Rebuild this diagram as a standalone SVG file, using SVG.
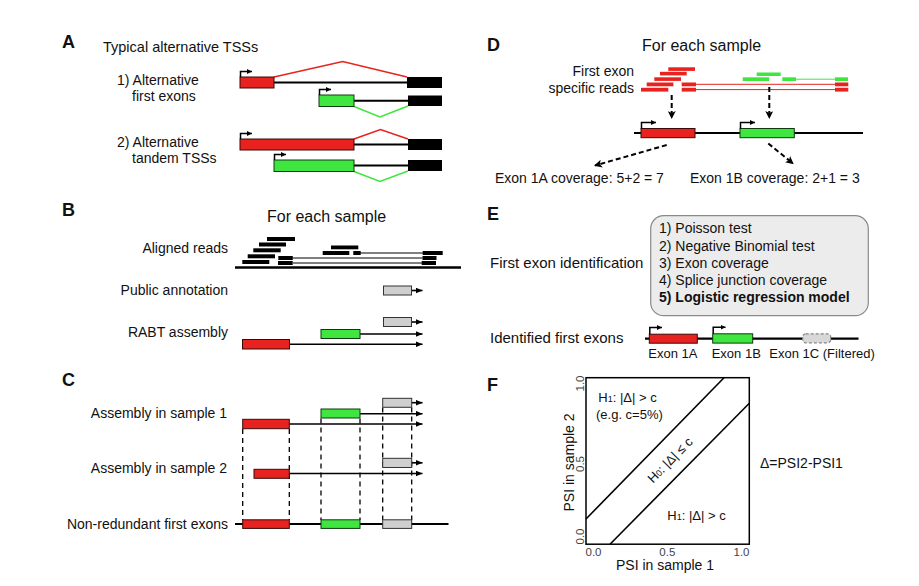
<svg xmlns="http://www.w3.org/2000/svg" width="919" height="586" viewBox="0 0 919 586">
<defs>
<style>
text{font-family:"Liberation Sans",Arial,sans-serif;fill:#111;}
.lab{font-size:18px;font-weight:bold;}
.t14{font-size:14px;}
.t15{font-size:15px;}
.t16{font-size:16px;}
.t13{font-size:13px;}
.tick{font-size:11.5px;fill:#444;}
.red{fill:#e8221e;stroke:#3a0a08;stroke-width:1;}
.grn{fill:#3fe63f;stroke:#0d3a0d;stroke-width:1;}
.gry{fill:#cfcfcf;stroke:#333;stroke-width:1;}
.blk{fill:#000;}
.ln{stroke:#000;stroke-width:2;fill:none;}
.thin{stroke:#000;stroke-width:1;fill:none;}
.arr{stroke:#000;stroke-width:1.6;fill:none;marker-end:url(#ah);}
.tss{stroke:#000;stroke-width:1.5;fill:none;marker-end:url(#th);}
.dash{stroke:#000;stroke-width:1.3;stroke-dasharray:5,4;fill:none;}
.darr{stroke:#000;stroke-width:2;stroke-dasharray:5,3;fill:none;marker-end:url(#dh);}
.rl{stroke:#e8221e;stroke-width:1.6;fill:none;}
.gl{stroke:#3fe63f;stroke-width:1.6;fill:none;}
.rr{fill:#e8221e;}
.gr{fill:#3fe63f;}
</style>
<marker id="ah" markerWidth="7" markerHeight="6" refX="7" refY="3" orient="auto" markerUnits="userSpaceOnUse"><path d="M0,0 L7,3 L0,6 z" fill="#000"/></marker>
<marker id="th" markerWidth="5" markerHeight="5" refX="5" refY="2.5" orient="auto" markerUnits="userSpaceOnUse"><path d="M0,0 L5,2.5 L0,5 z" fill="#000"/></marker>
<marker id="dh" markerWidth="8" markerHeight="8" refX="7" refY="4" orient="auto" markerUnits="userSpaceOnUse"><path d="M0,0 L8,4 L0,8 L2,4 z" fill="#000"/></marker>
</defs>
<rect width="919" height="586" fill="#fff"/>

<!-- Panel A -->
<g id="panelA">
<text class="lab" x="62" y="48">A</text>
<text class="t14" x="103" y="52" style="font-size:14.5px">Typical alternative TSSs</text>
<text class="t14" x="117" y="85">1) Alternative</text>
<text class="t14" x="132" y="101">first exons</text>
<text class="t14" x="117" y="147">2) Alternative</text>
<text class="t14" x="132" y="163">tandem TSSs</text>
<g id="a-row1">
<polyline class="rl" points="274,77 342.7,61.5 407,77"/>
<line class="ln" x1="274" y1="82.5" x2="408" y2="82.5"/>
<rect class="red" x="240" y="77" width="34" height="11"/>
<rect class="blk" x="407" y="77" width="35" height="11"/>
<path class="tss" d="M240.5,77 V71.5 H252"/>
</g>
<g id="a-row2">
<polyline class="gl" points="354,106.5 380,117 408,106"/>
<line class="ln" x1="354" y1="100.7" x2="408" y2="100.7"/>
<rect class="grn" x="319" y="95" width="35" height="11.5"/>
<rect class="blk" x="408" y="95.5" width="34" height="10.5"/>
<path class="tss" d="M319.5,95 V89.5 H331"/>
</g>
<g id="a-row3">
<polyline class="rl" points="354,139 380.5,129.5 408,139"/>
<line class="ln" x1="354" y1="144.5" x2="408" y2="144.5"/>
<rect class="red" x="240" y="139" width="114" height="11"/>
<rect class="blk" x="408" y="139" width="34" height="11"/>
<path class="tss" d="M240.5,139 V133.5 H252"/>
</g>
<g id="a-row4">
<polyline class="gl" points="354,171.5 380,181.5 408,171"/>
<line class="ln" x1="354" y1="165.5" x2="408" y2="165.5"/>
<rect class="grn" x="274" y="160" width="80" height="11.5"/>
<rect class="blk" x="408" y="160" width="34" height="11"/>
<path class="tss" d="M274.5,160 V154.5 H286"/>
</g>
</g>

<!-- Panel B -->
<g id="panelB">
<text class="lab" x="62" y="216">B</text>
<text class="t16" x="267" y="221.5">For each sample</text>
<text class="t14" x="228" y="253" text-anchor="end">Aligned reads</text>
<text class="t14" x="228" y="295" text-anchor="end">Public annotation</text>
<text class="t14" x="228" y="337" text-anchor="end">RABT assembly</text>
<g id="b-reads">
<line x1="235" y1="267.5" x2="461" y2="267.5" stroke="#000" stroke-width="2.6"/>
<rect class="blk" x="267" y="237" width="28" height="4"/>
<rect class="blk" x="259" y="242.5" width="27" height="4"/>
<rect class="blk" x="253.3" y="248.3" width="27.4" height="4"/>
<rect class="blk" x="247.7" y="254.3" width="27.3" height="4"/>
<rect class="blk" x="242.3" y="260" width="27" height="4"/>
<line class="thin" x1="293" y1="258" x2="422.5" y2="258"/>
<line class="thin" x1="293" y1="263" x2="422" y2="263"/>
<rect class="blk" x="278.3" y="256" width="14.5" height="4"/>
<rect class="blk" x="278" y="261" width="14.7" height="4"/>
<rect class="blk" x="422.5" y="256" width="14" height="4"/>
<rect class="blk" x="421.7" y="261" width="14.3" height="4"/>
<rect class="blk" x="331" y="245.5" width="27.3" height="3.8"/>
<rect class="blk" x="322.7" y="251" width="26.6" height="4"/>
<line class="thin" x1="360" y1="253" x2="423" y2="253"/>
<rect class="blk" x="353.3" y="251" width="7.4" height="4"/>
<rect class="blk" x="422.7" y="251" width="20" height="4"/>
</g>
<g id="b-public">
<line class="arr" x1="411.5" y1="290.5" x2="422.5" y2="290.5"/>
<rect class="gry" x="383.5" y="286" width="28" height="9"/>
</g>
<g id="b-rabt">
<line class="arr" x1="411.5" y1="322" x2="422.5" y2="322"/>
<rect class="gry" x="383.5" y="317.5" width="28" height="9"/>
<line class="arr" x1="360" y1="334" x2="422.5" y2="334"/>
<rect class="grn" x="321" y="329.5" width="39" height="9"/>
<line class="arr" x1="289.5" y1="344.3" x2="422.5" y2="344.3"/>
<rect class="red" x="242.5" y="339.5" width="47" height="9.5"/>
</g>
</g>

<!-- Panel C -->
<g id="panelC">
<text class="lab" x="62" y="386">C</text>
<text class="t14" x="227" y="418" text-anchor="end">Assembly in sample 1</text>
<text class="t14" x="227" y="473" text-anchor="end">Assembly in sample 2</text>
<text class="t14" x="228" y="528.5" text-anchor="end">Non-redundant first exons</text>
<g id="c-connectors">
<line class="dash" x1="242.7" y1="429" x2="242.7" y2="520"/>
<line class="dash" x1="289.3" y1="429" x2="289.3" y2="520"/>
<line class="dash" x1="321" y1="418.5" x2="321" y2="520"/>
<line class="dash" x1="360" y1="418.5" x2="360" y2="520"/>
<line class="dash" x1="382.7" y1="407.5" x2="382.7" y2="520"/>
<line class="dash" x1="411.7" y1="407.5" x2="411.7" y2="520"/>
</g>
<g id="c-sample1">
<line class="arr" x1="411.7" y1="402.7" x2="422.5" y2="402.7"/>
<rect class="gry" x="382.7" y="398.3" width="29" height="9"/>
<line class="arr" x1="360" y1="413.7" x2="422.5" y2="413.7"/>
<rect class="grn" x="321" y="409" width="39" height="9"/>
<line class="arr" x1="289.3" y1="424" x2="422.5" y2="424"/>
<rect class="red" x="242.7" y="419.3" width="46.6" height="9.4"/>
</g>
<g id="c-sample2">
<line class="arr" x1="411.7" y1="462.8" x2="422.5" y2="462.8"/>
<rect class="gry" x="382.7" y="458.3" width="29" height="9.2"/>
<line class="arr" x1="289.3" y1="473.5" x2="422.5" y2="473.5"/>
<rect class="red" x="254" y="469.3" width="35.3" height="9"/>
</g>
<g id="c-nonredundant">
<line class="ln" x1="235" y1="524" x2="448.5" y2="524" style="stroke-width:2.2"/>
<rect class="red" x="242.7" y="519.8" width="46.6" height="8.6"/>
<rect class="grn" x="321" y="519.8" width="39" height="8.6"/>
<rect class="gry" x="382.7" y="519.8" width="29" height="8.6"/>
</g>
</g>

<!-- Panel D -->
<g id="panelD">
<text class="lab" x="487" y="51">D</text>
<text class="t16" x="642" y="50.7">For each sample</text>
<text class="t14" x="634" y="75.7" text-anchor="end">First exon</text>
<text class="t14" x="634" y="93.3" text-anchor="end">specific reads</text>
<g id="d-reads">
<line class="rl" x1="696" y1="84.3" x2="835" y2="84.3" style="stroke-width:1"/>
<line class="rl" x1="696" y1="89.6" x2="835" y2="89.6" style="stroke-width:1"/>
<rect class="rr" x="668.3" y="67.3" width="26.7" height="3.6"/>
<rect class="rr" x="660" y="71.8" width="26.7" height="3.6"/>
<rect class="rr" x="654.3" y="77.3" width="26.7" height="3.6"/>
<rect class="rr" x="646.7" y="82.5" width="26.7" height="3.8"/>
<rect class="rr" x="641" y="87.8" width="27.3" height="3.8"/>
<rect class="rr" x="681.7" y="82.5" width="14.3" height="3.8"/>
<rect class="rr" x="681.7" y="87.8" width="14.3" height="3.8"/>
<rect class="rr" x="835" y="82.5" width="13.3" height="3.8"/>
<rect class="rr" x="835" y="87.8" width="13.3" height="3.8"/>
<line class="gl" x1="796" y1="79.2" x2="835" y2="79.2" style="stroke-width:1"/>
<rect class="gr" x="756.7" y="72.5" width="24" height="3.5"/>
<rect class="gr" x="742.7" y="77.3" width="26.5" height="3.7"/>
<rect class="gr" x="782.3" y="77.3" width="13.7" height="3.7"/>
<rect class="gr" x="835" y="77.3" width="13" height="3.7"/>
</g>
<g id="d-connectors">
<line class="darr" x1="671.7" y1="95" x2="671.7" y2="118"/>
<line class="darr" x1="769.3" y1="87" x2="769.3" y2="118"/>
<line class="darr" x1="666.7" y1="145" x2="595" y2="165.5"/>
<line class="darr" x1="768.3" y1="143.5" x2="793" y2="163.5"/>
</g>
<g id="d-gene">
<line class="ln" x1="634" y1="133" x2="863" y2="133" style="stroke-width:2.2"/>
<rect class="red" x="641" y="128.5" width="54" height="9.2"/>
<rect class="grn" x="740" y="128.5" width="54.3" height="9.2"/>
<path class="tss" d="M641.5,128.5 V122.5 H656"/>
<path class="tss" d="M740.5,128.5 V122.5 H755"/>
</g>
<text class="t14" x="495" y="183.3">Exon 1A coverage: 5+2 = 7</text>
<text class="t14" x="690" y="183.3">Exon 1B coverage: 2+1 = 3</text>
</g>

<!-- Panel E -->
<g id="panelE">
<text class="lab" x="487" y="220">E</text>
<text class="t15" x="490" y="268.3">First exon identification</text>
<g id="e-box">
<rect x="650.7" y="215.7" width="217.6" height="100" rx="13" fill="#ececec" stroke="#8a8a8a" stroke-width="1.2"/>
<text class="t14" x="659" y="233.3">1) Poisson test</text>
<text class="t14" x="659" y="250.7">2) Negative Binomial test</text>
<text class="t14" x="659" y="267.8">3) Exon coverage</text>
<text class="t14" x="659" y="285">4) Splice junction coverage</text>
<text class="t14" x="659" y="301.8" font-weight="bold">5) Logistic regression model</text>
</g>
<text class="t15" x="490" y="343.3">Identified first exons</text>
<g id="e-gene">
<line class="ln" x1="645" y1="338.7" x2="858.5" y2="338.7" style="stroke-width:2.2"/>
<rect class="red" x="649.3" y="334.2" width="48" height="9"/>
<rect class="grn" x="712.7" y="333.8" width="40" height="9.3"/>
<rect x="802.7" y="333.8" width="28" height="9" rx="3" fill="#d8d8d8" stroke="#888" stroke-width="1.2" stroke-dasharray="3,2"/>
<path class="tss" d="M649.8,334.2 V327.5 H662"/>
<path class="tss" d="M713.2,333.8 V327.3 H725.5"/>
<text class="t13" x="648.3" y="358.3">Exon 1A</text>
<text class="t13" x="711.7" y="358.3">Exon 1B</text>
<text class="t13" x="769.3" y="358.3">Exon 1C (Filtered)</text>
</g>
</g>

<!-- Panel F -->
<g id="panelF">
<text class="lab" x="487" y="391">F</text>
<g id="f-plot">
<rect x="586" y="377.7" width="163.3" height="166.5" fill="none" stroke="#000" stroke-width="1.5"/>
<line x1="586" y1="519" x2="724" y2="377.7" stroke="#000" stroke-width="1.6"/>
<line x1="610" y1="544.2" x2="749.3" y2="403.3" stroke="#000" stroke-width="1.6"/>
<text class="tick" x="593.5" y="556" text-anchor="middle">0.0</text>
<text class="tick" x="667.3" y="556" text-anchor="middle">0.5</text>
<text class="tick" x="741.5" y="556" text-anchor="middle">1.0</text>
<text class="tick" transform="translate(584,383.5) rotate(-90)" text-anchor="middle">1.0</text>
<text class="tick" transform="translate(584,464) rotate(-90)" text-anchor="middle">0.5</text>
<text class="tick" transform="translate(584,536.5) rotate(-90)" text-anchor="middle">0.0</text>
<text class="t14" x="665" y="570" text-anchor="middle">PSI in sample 1</text>
<text class="t14" transform="translate(573.5,462.5) rotate(-90)" text-anchor="middle">PSI in sample 2</text>
<text class="t13" x="598.3" y="402.3">H<tspan style="font-size:9px">1</tspan>: |Δ| &gt; c</text>
<text class="t13" x="596" y="419">(e.g. c=5%)</text>
<text class="t13" transform="translate(670,460) rotate(-45.5)" x="0" y="4.5" text-anchor="middle">H<tspan style="font-size:9px">0</tspan>: |Δ| ≤ c</text>
<text class="t13" x="667.3" y="520">H<tspan style="font-size:9px">1</tspan>: |Δ| &gt; c</text>
</g>
<text class="t14" x="760" y="468.3">Δ=PSI2-PSI1</text>
</g>
</svg>
